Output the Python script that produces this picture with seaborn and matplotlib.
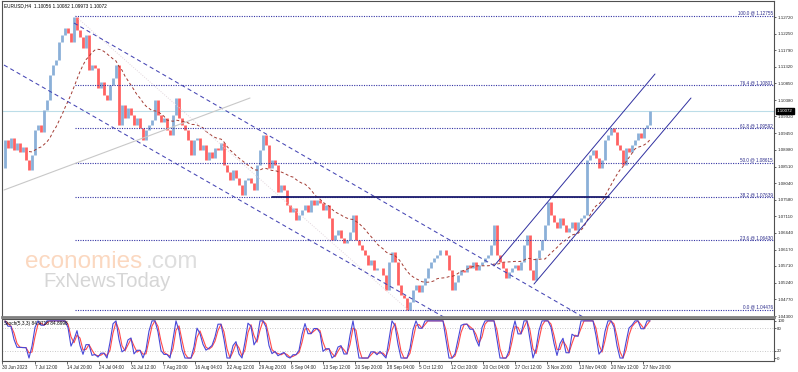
import numpy as np
import pandas as pd
import seaborn as sns
import matplotlib.pyplot as plt
import matplotlib.transforms as mtransforms

# -----------------------------
# Data (EURUSD H4, one close every 3 bars)
# -----------------------------
closes = [
    1.0847, 1.0926, 1.0903, 1.0931, 1.0898, 1.0917, 1.0892, 1.0906, 1.0869, 1.0841,
    1.0883, 1.0954, 1.0968, 1.0948, 1.1010, 1.1038, 1.1109, 1.1137, 1.1151, 1.1202,
    1.1221, 1.1241, 1.1227, 1.1202, 1.1272, 1.1235, 1.1216, 1.1185, 1.1221, 1.1123,
    1.1137, 1.1128, 1.1072, 1.1089, 1.1052, 1.1038, 1.1081, 1.1100, 1.1137, 1.0968,
    1.1024, 1.0988, 1.1016, 1.0996, 1.0968, 1.0988, 1.0959, 1.0926, 1.0954, 1.0968,
    1.0982, 1.1038, 1.0996, 1.0976, 1.0988, 1.0954, 1.0940, 1.0996, 1.1044, 1.0988,
    1.0968, 1.0954, 1.0926, 1.0883, 1.0926, 1.0931, 1.0898, 1.0912, 1.0869, 1.0892,
    1.0875, 1.0903, 1.0898, 1.0917, 1.0855, 1.0836, 1.0813, 1.0841, 1.0819, 1.0799,
    1.0771, 1.0813, 1.0819, 1.0805, 1.0785, 1.0855, 1.0898, 1.0940, 1.0912, 1.0847,
    1.0869, 1.0855, 1.0779, 1.0799, 1.0785, 1.0743, 1.0723, 1.0734, 1.0700, 1.0714,
    1.0729, 1.0743, 1.0723, 1.0757, 1.0743, 1.0757, 1.0748, 1.0729, 1.0743, 1.0706,
    1.0644, 1.0658, 1.0672, 1.0650, 1.0636, 1.0644, 1.0667, 1.0714, 1.0644, 1.0630,
    1.0616, 1.0602, 1.0574, 1.0588, 1.0560, 1.0565, 1.0565, 1.0546, 1.0503, 1.0582,
    1.0610, 1.0582, 1.0517, 1.0489, 1.0481, 1.0448, 1.0469, 1.0503, 1.0517, 1.0498,
    1.0517, 1.0537, 1.0565, 1.0582, 1.0593, 1.0602, 1.0616, 1.0616, 1.0602, 1.0560,
    1.0503, 1.0526, 1.0546, 1.0560, 1.0554, 1.0574, 1.0565, 1.0582, 1.0560, 1.0574,
    1.0582, 1.0593, 1.0602, 1.0630, 1.0686, 1.0602, 1.0582, 1.0565, 1.0537, 1.0554,
    1.0565, 1.0574, 1.0560, 1.0582, 1.0630, 1.0658, 1.0560, 1.0531, 1.0593, 1.0616,
    1.0644, 1.0686, 1.0751, 1.0714, 1.0695, 1.0678, 1.0706, 1.0686, 1.0667, 1.0678,
    1.0695, 1.0672, 1.0695, 1.0706, 1.0714, 1.0869, 1.0883, 1.0898, 1.0875, 1.0847,
    1.0869, 1.0926, 1.0940, 1.0959, 1.0948, 1.0912, 1.0898, 1.0855, 1.0903, 1.0892,
    1.0912, 1.0926, 1.0945, 1.0931, 1.0959, 1.0968, 1.10072,
]

x_labels = ["30 Jun 2023", "7 Jul 12:00", "14 Jul 20:00", "24 Jul 04:00", "31 Jul 12:00",
            "7 Aug 20:00", "16 Aug 04:00", "22 Aug 12:00", "29 Aug 20:00", "6 Sep 04:00",
            "13 Sep 12:00", "20 Sep 20:00", "28 Sep 04:00", "5 Oct 12:00", "12 Oct 20:00",
            "20 Oct 04:00", "27 Oct 12:00", "3 Nov 20:00", "13 Nov 04:00", "20 Nov 12:00",
            "27 Nov 20:00"]

price_ticks = [1.12720, 1.12250, 1.11790, 1.11320, 1.10850, 1.10380, 1.09920, 1.09450,
               1.08980, 1.08510, 1.08040, 1.07580, 1.07110, 1.06640, 1.06170, 1.05710,
               1.05240, 1.04770, 1.04300]
stoch_ticks = [100, 80, 20, 0]

last_price = 1.10072
header = "EURUSD,H4  1.10056 1.10082 1.09973 1.10072"
stoch_header = "Stoch(5,3,3) 84.9716 84.8998"

# fibonacci retracement (bar index, price)
fib_high_bar, fib_high = 73, 1.12755
fib_low_bar, fib_low = 406, 1.04476
fib_levels = [100.0, 76.4, 61.8, 50.0, 38.2, 23.6, 0.0]

# drawn trendlines: (bar, price) anchors
down_upper = [(72, 1.12551), (330, 1.08355)]
down_lower = [(2, 1.11368), (330, 1.06074)]
up_upper = [(492, 1.05708), (653, 1.11115)]
up_lower = [(532, 1.05201), (689, 1.10439)]
gray_line = [(2, 1.07848), (248, 1.10439)]
support_line = [(270, 1.07655), (607, 1.07655)]

# -----------------------------
# Derived series
# -----------------------------
df = pd.DataFrame({'bar': np.arange(len(closes)) * 3, 'close': closes})
df['open'] = df['close'].shift(1).fillna(df['close'])
df['hi'] = df[['open', 'close']].max(axis=1)
df['lo'] = df[['open', 'close']].min(axis=1)
df['ma'] = df['close'].rolling(17, min_periods=10).mean()
hh = df['hi'].rolling(3, min_periods=1).max()
ll = df['lo'].rolling(3, min_periods=1).min()
fast = (df['close'] - ll) / (hh - ll).replace(0, np.nan) * 100
df['k'] = fast.rolling(2, min_periods=1).mean()
df['d'] = df['k'].rolling(2, min_periods=1).mean()

# -----------------------------
# Plot
# -----------------------------
sns.set_style('white')
plt.rcParams['font.family'] = ['Liberation Sans', 'DejaVu Sans']

W, H = 798, 372
fig = plt.figure(figsize=(W / 100, H / 100), dpi=100)
ax = fig.add_axes([2 / W, 1 - 317 / H, 772 / W, 316 / H])
ax2 = fig.add_axes([2 / W, 1 - 361 / H, 772 / W, 42 / H])

# candles
up = df['close'] >= df['open']
ax.vlines(df['bar'], df['lo'], df['hi'], colors=np.where(up, '#8bb0d8', '#ff6262'), linewidth=2.0)

# moving average
sns.lineplot(x=df['bar'], y=df['ma'], ax=ax, color='#a23a32', linewidth=0.7,
             linestyle=(0, (3, 2.5)), errorbar=None)

# current price line
ax.axhline(last_price, color='#bcdde8', linewidth=0.8, zorder=0)

# fibonacci levels
fib_col = '#3434a4'
ax.plot([fib_high_bar, fib_low_bar], [fib_high, fib_low], color='#e2d6dc', linewidth=0.7,
        linestyle=(0, (1, 1.5)))
for lvl in fib_levels:
    p = fib_low + lvl / 100 * (fib_high - fib_low)
    ax.plot([fib_high_bar, 780], [p, p], color=fib_col, linewidth=0.8, linestyle=(0, (1, 1.2)))
    ax.text(771, p, f"{lvl:.1f} @ {p:.5f}", ha='right', va='bottom', fontsize=3.3, color='#2a2a8a')

# channels and lines
def extend(pts, x_end):
    (x0, y0), (x1, y1) = pts
    s = (y1 - y0) / (x1 - x0)
    return [x0, x_end], [y0, y0 + s * (x_end - x0)]

for pts in (down_upper, down_lower):
    xs, ys = extend(pts, 760)
    ax.plot(xs, ys, color='#4545b4', linewidth=0.75, linestyle=(0, (4, 3)))
for pts in (up_upper, up_lower):
    xs, ys = zip(*pts)
    ax.plot(xs, ys, color='#3030a0', linewidth=0.7)
xs, ys = zip(*gray_line)
ax.plot(xs, ys, color='#c8c8c8', linewidth=0.8)
xs, ys = zip(*support_line)
ax.plot(xs, ys, color='#1c1c6e', linewidth=1.3)

ax.set_xlim(0, 772)
ax.set_ylim(1.04272, 1.13171)
ax.set_xticks([])
ax.yaxis.tick_right()
ax.set_yticks(price_ticks)
ax.set_yticklabels([f"{v:.5f}" for v in price_ticks])
ax.tick_params(axis='y', labelsize=3.2, length=1.5, width=0.5, pad=0.8, right=True, left=False)
ax.set_xlabel('')
ax.set_ylabel('')
for s in ax.spines.values():
    s.set_color('#505050')
    s.set_linewidth(0.8)
ax.spines['bottom'].set_color('#808080')
ax.spines['bottom'].set_linewidth(2.0)

# last price box
tr = mtransforms.blended_transform_factory(ax.transAxes, ax.transData)
ax.text(1.004, last_price, f"{last_price:.5f}", transform=tr, ha='left', va='center',
        fontsize=3.2, color='white', clip_on=False,
        bbox=dict(facecolor='black', edgecolor='black', boxstyle='square,pad=0.25'))

# stochastic panel
ax2.axhline(80, color='#b8b8b8', linewidth=0.6, linestyle=(0, (1, 2)))
ax2.axhline(20, color='#b8b8b8', linewidth=0.6, linestyle=(0, (1, 2)))
sns.lineplot(x=df['bar'], y=df['d'], ax=ax2, color='#ff4a4a', linewidth=0.8, errorbar=None)
sns.lineplot(x=df['bar'], y=df['k'], ax=ax2, color='#4848d8', linewidth=0.8, errorbar=None)
ax2.set_xlim(0, 772)
ax2.set_ylim(-8, 105)
ax2.yaxis.tick_right()
ax2.set_yticks(stoch_ticks)
ax2.set_yticklabels([str(v) for v in stoch_ticks])
ax2.tick_params(axis='y', labelsize=3.2, length=1.5, width=0.5, pad=0.8, right=True, left=False)
label_bars = [0] + [33 + 32 * k for k in range(len(x_labels) - 1)]
ax2.set_xticks(label_bars)
ax2.set_xticklabels(x_labels, ha='left')
ax2.tick_params(axis='x', labelsize=3.3, length=2, width=0.5, pad=1, bottom=True)
ax2.set_xlabel('')
ax2.set_ylabel('')
for s in ax2.spines.values():
    s.set_color('#505050')
    s.set_linewidth(0.8)

# header texts
fig.text(4 / W, 1 - 6 / H, header, fontsize=3.4, va='center', color='black')
fig.text(4 / W, 1 - 323 / H, stoch_header, fontsize=3.4, va='center', color='black')

# watermark
fig.text(25 / W, 1 - 268 / H, "economies", fontsize=17.5, color='#fbd8c0', va='baseline')
fig.text(146 / W, 1 - 268 / H, ".com", fontsize=17.5, color='#dedede', va='baseline')
fig.text(43 / W, 1 - 287 / H, "FxNewsToday", fontsize=14.6, color='#d6d6d6', va='baseline')

fig.savefig('out.png', dpi=100)
